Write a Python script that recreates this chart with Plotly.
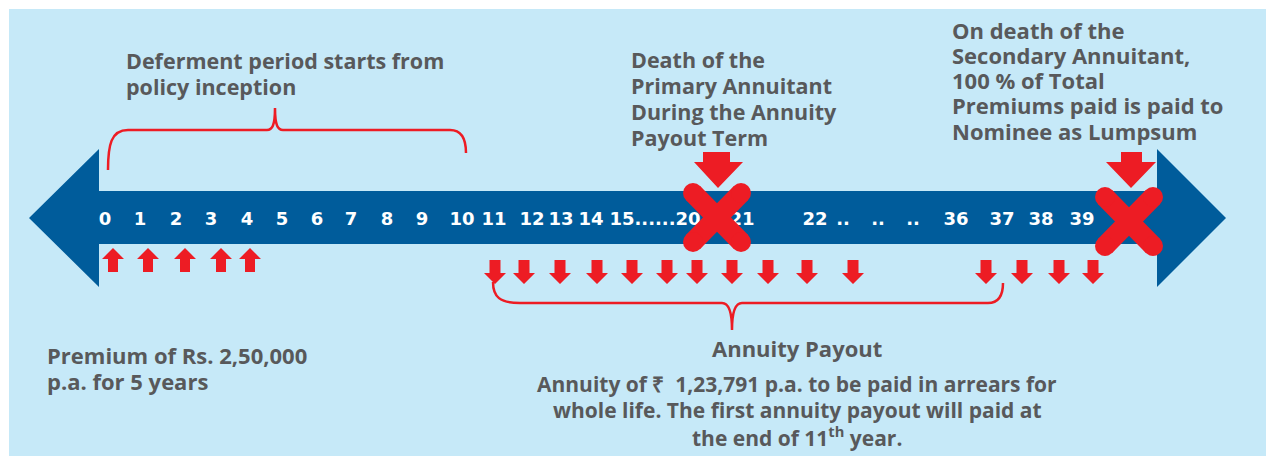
import plotly.graph_objects as go

# ---------------- data ----------------
year_labels = ["0", "1", "2", "3", "4", "5", "6", "7", "8", "9", "10", "11",
               "12", "13", "14", "15......20", "21", "22", "..", "..", "..",
               "36", "37", "38", "39"]
premium_years = [0, 1, 2, 3, 4]
payout_count = 15

# ---------------- layout positions (pixels) ----------------
label_x = [105, 140, 176, 211, 247, 282, 317, 351, 387, 422, 462, 494,
           532, 561, 591, 655, 742, 815, 843, 878, 913, 956, 1002, 1041, 1082]
label_y = 220
premium_x = [113, 148, 185, 221, 250]
payout_x = [495, 524, 560, 597, 632, 667, 697, 732, 768, 807, 853,
            986, 1022, 1059, 1093]

BG = "#C6E9F8"
BLUE = "#005C9B"
RED = "#ED1C24"
GREY = "#58595B"
FONT = "Open Sans"
NUMFONT = "DejaVu Sans"

shapes = []
# background panel
shapes.append(dict(type="rect", x0=9, y0=9, x1=1266, y1=456, fillcolor=BG,
                   line=dict(width=0), layer="below"))
# double arrow timeline
shapes.append(dict(type="path",
                   path="M29,218 L99,149 L99,191 L1157,191 L1157,149 L1226,218 "
                        "L1157,287 L1157,244 L99,244 L99,287 Z",
                   fillcolor=BLUE, line=dict(width=0), layer="below"))


def up_arrow(x):
    return ("M{a},272 L{a},259 L{b},259 L{x},248 L{c},259 L{d},259 L{d},272 Z"
            .format(a=x - 5, b=x - 11, x=x, c=x + 11, d=x + 5))


def down_arrow(x):
    return ("M{a},260 L{a},273 L{b},273 L{x},284 L{c},273 L{d},273 L{d},260 Z"
            .format(a=x - 5.5, b=x - 11, x=x, c=x + 11, d=x + 5.5))


for yr, px in zip(premium_years, premium_x):
    shapes.append(dict(type="path", path=up_arrow(px), fillcolor=RED,
                       line=dict(width=0), layer="below"))
for i in range(payout_count):
    shapes.append(dict(type="path", path=down_arrow(payout_x[i]), fillcolor=RED,
                       line=dict(width=0), layer="below"))


def big_down(x, s0, s1, h0, h1):
    return ("M{s0},152 L{s0},162 L{h0},162 L{x},188 L{h1},162 L{s1},162 L{s1},152 Z"
            .format(s0=s0, s1=s1, h0=h0, h1=h1, x=x))


shapes.append(dict(type="path", path=big_down(718, 703, 730, 694, 743),
                   fillcolor=RED, line=dict(width=0), layer="below"))
shapes.append(dict(type="path", path=big_down(1131, 1121, 1142, 1106, 1156),
                   fillcolor=RED, line=dict(width=0), layer="below"))

# curly braces
shapes.append(dict(type="path",
                   path="M108,170 C108,145 111,130 128,130 L267,130 C272,130 275,126 275,108 "
                        "C275,126 278,130 283,130 L450,130 C461,130 466,138 466,153",
                   line=dict(color=RED, width=2.5), layer="below"))
shapes.append(dict(type="path",
                   path="M493,282 C493,297 500,303 520,303 L722,303 C728,303 732,309 732,330 "
                        "C732,309 736,303 742,303 L988,303 C998,303 1003,296 1003,283",
                   line=dict(color=RED, width=2.5), layer="below"))

fig = go.Figure()

# year labels on the timeline
fig.add_trace(go.Scatter(x=label_x, y=[label_y] * len(label_x), mode="text",
                         text=year_labels,
                         textfont=dict(family=NUMFONT, size=18, color="white", weight="bold"),
                         textposition="middle center", hoverinfo="skip"))

# death crosses
crosses = [((693, 193), (741, 242)), ((1105, 197), (1153, 246))]
for (x0, y0), (x1, y1) in crosses:
    for xs, ys in (([x0, x1], [y0, y1]), ([x1, x0], [y0, y1])):
        fig.add_trace(go.Scatter(x=xs, y=ys, mode="lines+markers",
                                 line=dict(color=RED, width=20),
                                 marker=dict(color=RED, size=20, line=dict(width=0)),
                                 hoverinfo="skip"))

annotations = []


def add_lines(lines, x, ys, anchor="left", size=21.5):
    for t, y in zip(lines, ys):
        annotations.append(dict(x=x, y=y, text="<b>" + t + "</b>", showarrow=False,
                                xanchor=anchor, yanchor="middle",
                                font=dict(family=FONT, size=size, color=GREY)))


add_lines(["Deferment period starts from", "policy inception"], 124, [60, 86])
add_lines(["Death of the", "Primary Annuitant", "During the Annuity", "Payout Term"],
          629, [59, 85, 111, 137])
add_lines(["On death of the", "Secondary Annuitant,", "100 % of Total",
           "Premiums paid is paid to", "Nominee as Lumpsum"],
          950, [30, 55, 80, 105, 131], size=22)
add_lines(["Premium of Rs. 2,50,000", "p.a. for 5 years"], 45, [355, 381], size=22)
add_lines(["Annuity Payout"], 797, [348], anchor="center", size=22)
add_lines(["Annuity of ₹  1,23,791 p.a. to be paid in arrears for",
           "whole life. The first annuity payout will paid at",
           "the end of 11<sup>th</sup> year."],
          797, [384, 410, 436], anchor="center", size=21)

fig.update_layout(
    width=1266, height=456,
    margin=dict(l=0, r=0, t=0, b=0),
    paper_bgcolor="white", plot_bgcolor="white",
    showlegend=False,
    xaxis=dict(range=[0, 1266], visible=False, fixedrange=True),
    yaxis=dict(range=[456, 0], visible=False, fixedrange=True),
    shapes=shapes,
    annotations=annotations,
)

fig.write_html("out.html", config={"displayModeBar": False},
               post_script="document.body.style.margin='0';"
                           "document.body.style.overflow='hidden';")
